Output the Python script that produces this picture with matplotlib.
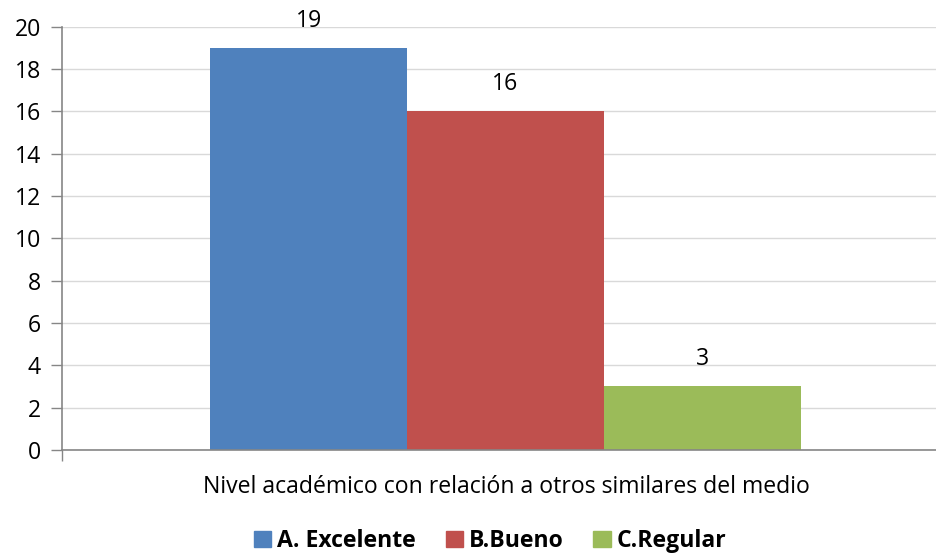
import matplotlib.pyplot as plt
from matplotlib.patches import Patch

categories = ["Nivel académico con relación a otros similares del medio"]
series_names = ["A. Excelente", "B.Bueno", "C.Regular"]
series_values = [19, 16, 3]
colors = ["#4f81bd", "#c0504d", "#9bbb59"]
y_ticks = [0, 2, 4, 6, 8, 10, 12, 14, 16, 18, 20]

plt.rcParams["font.family"] = ["Open Sans", "DejaVu Sans"]
FS = 16.6

W, H = 936, 554
fig = plt.figure(figsize=(W / 100, H / 100), dpi=100)
left, right, top, bottom = 62, 949, 26.5, 450
ax = fig.add_axes([left / W, 1 - bottom / H, (right - left) / W, (bottom - top) / H])

bar_w = 0.222
offsets = [-bar_w, 0, bar_w]
for name, val, col, off in zip(series_names, series_values, colors, offsets):
    ax.bar(off, val, width=bar_w, color=col, label=name, zorder=2)
    ax.annotate(str(val), (off, val), xytext=(0, 27), textcoords="offset pixels",
                ha="center", va="center", fontsize=FS)

ax.set_xlim(-0.5, 0.5)
ax.set_ylim(0, 20)
ax.set_yticks(y_ticks)
ax.tick_params(axis="y", labelsize=FS, length=8, width=1, color="#868686", pad=7)
ax.set_xticks([-0.5])
ax.set_xticklabels([""])
ax.tick_params(axis="x", length=8, width=1, color="#868686")
ax.grid(axis="y", color="#d9d9d9", linewidth=1, zorder=0)
ax.set_axisbelow(True)
for s in ["top", "right"]:
    ax.spines[s].set_visible(False)
for s in ["left", "bottom"]:
    ax.spines[s].set_color("#868686")
    ax.spines[s].set_linewidth(1.2)

fig.text(506 / W, 1 - 487 / H, categories[0], ha="center", va="center", fontsize=FS)

handles = [Patch(color=c, label=n) for n, c in zip(series_names, colors)]
fig.legend(handles=handles, loc="center", bbox_to_anchor=(490 / W, 1 - 541 / H),
           ncol=3, frameon=False, prop={"weight": "bold", "size": FS},
           handlelength=0.75, handleheight=0.75, handletextpad=0.25, columnspacing=1.3)

fig.savefig("out.png", dpi=100)
